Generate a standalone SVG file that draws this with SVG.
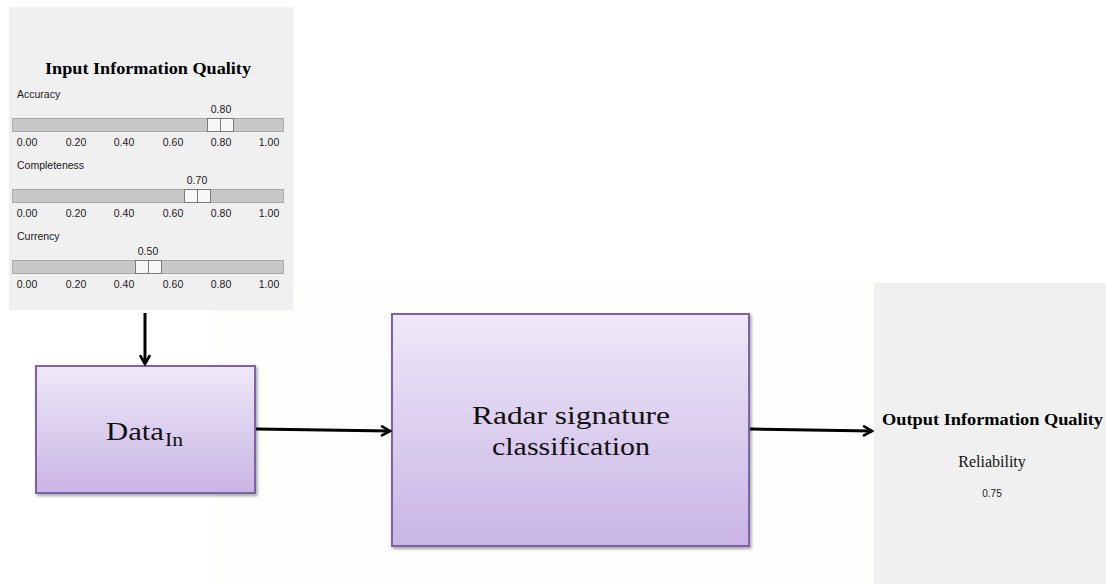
<svg xmlns="http://www.w3.org/2000/svg" width="1106" height="584" viewBox="0 0 1106 584">
<defs>
<linearGradient id="boxGrad" x1="0" y1="0" x2="0" y2="1">
<stop offset="0" stop-color="#eee8f7"/>
<stop offset="1" stop-color="#c9b5e5"/>
</linearGradient>
<filter id="shadow" x="-10%" y="-10%" width="120%" height="120%">
<feDropShadow dx="1.5" dy="2" stdDeviation="1.5" flood-color="#000" flood-opacity="0.35"/>
</filter>
<marker id="arrow" viewBox="0 0 12 12" refX="10" refY="6" markerWidth="12" markerHeight="12" markerUnits="userSpaceOnUse" orient="auto">
<path d="M2,1.5 L10,6 L2,10.5" fill="none" stroke="#000" stroke-width="2.6" stroke-linecap="round" stroke-linejoin="miter"/>
</marker>
</defs>
<style>
.panel{fill:#f0f0f0}
.title{font-family:"Liberation Serif","Times New Roman",serif;font-weight:bold;font-size:17px;fill:#000}
.lbl{font-family:"Liberation Sans",Arial,sans-serif;font-size:10.5px;fill:#1a1a1a}
.tick{font-family:"Liberation Sans",Arial,sans-serif;font-size:10.5px;fill:#1a1a1a;text-anchor:middle}
.track{fill:#c8c8c8;stroke:#a9a9a9;stroke-width:1}
.thumb{fill:#f7f7f7;stroke:#7a7a7a;stroke-width:1}
.node rect{fill:url(#boxGrad);stroke:#7d62a8;stroke-width:2;filter:url(#shadow)}
.ntext{font-family:"Liberation Serif","Times New Roman",serif;font-size:25px;fill:#111;text-anchor:middle}
.ntl{font-family:"Liberation Serif","Times New Roman",serif;fill:#111;text-anchor:start}
.conn{stroke:#000;stroke-width:3;fill:none;marker-end:url(#arrow)}
</style>
<rect x="0" y="0" width="1106" height="584" fill="#ffffff"/>
<rect x="215" y="283" width="891" height="301" fill="#fdfdfb"/>

<g id="input-panel">
<rect class="panel" x="9" y="7" width="284" height="303"/>
<text class="title" x="148" y="74" text-anchor="middle" textLength="206" lengthAdjust="spacingAndGlyphs">Input Information Quality</text>

<text class="lbl" x="17" y="98">Accuracy</text>
<text class="tick" x="221" y="113">0.80</text>
<rect class="track" x="12.5" y="118.5" width="271" height="13"/>
<rect class="thumb" x="207.5" y="118.5" width="26" height="13"/>
<line x1="220.5" y1="119" x2="220.5" y2="131" stroke="#7a7a7a"/>
<g class="ticks">
<text class="tick" x="27" y="146">0.00</text>
<text class="tick" x="76" y="146">0.20</text>
<text class="tick" x="124" y="146">0.40</text>
<text class="tick" x="173" y="146">0.60</text>
<text class="tick" x="221" y="146">0.80</text>
<text class="tick" x="269" y="146">1.00</text>
</g>

<text class="lbl" x="17" y="169">Completeness</text>
<text class="tick" x="197" y="184">0.70</text>
<rect class="track" x="12.5" y="189.5" width="271" height="13"/>
<rect class="thumb" x="184.5" y="189.5" width="26" height="13"/>
<line x1="197.5" y1="190" x2="197.5" y2="202" stroke="#7a7a7a"/>
<g class="ticks">
<text class="tick" x="27" y="217">0.00</text>
<text class="tick" x="76" y="217">0.20</text>
<text class="tick" x="124" y="217">0.40</text>
<text class="tick" x="173" y="217">0.60</text>
<text class="tick" x="221" y="217">0.80</text>
<text class="tick" x="269" y="217">1.00</text>
</g>

<text class="lbl" x="17" y="240">Currency</text>
<text class="tick" x="148" y="255">0.50</text>
<rect class="track" x="12.5" y="260.5" width="271" height="13"/>
<rect class="thumb" x="135.5" y="260.5" width="26" height="13"/>
<line x1="148.5" y1="261" x2="148.5" y2="273" stroke="#7a7a7a"/>
<g class="ticks">
<text class="tick" x="27" y="288">0.00</text>
<text class="tick" x="76" y="288">0.20</text>
<text class="tick" x="124" y="288">0.40</text>
<text class="tick" x="173" y="288">0.60</text>
<text class="tick" x="221" y="288">0.80</text>
<text class="tick" x="269" y="288">1.00</text>
</g>
</g>

<g id="data-in" class="node">
<rect x="36" y="366" width="219" height="127"/>
<text class="ntl" x="106" y="440" font-size="26" textLength="58" lengthAdjust="spacingAndGlyphs">Data</text>
<text class="ntl" x="165" y="446" font-size="18" textLength="18" lengthAdjust="spacingAndGlyphs">In</text>
</g>

<g id="radar" class="node">
<rect x="392" y="314" width="357" height="232"/>
<text class="ntext" x="571" y="424" textLength="198" lengthAdjust="spacingAndGlyphs">Radar signature</text>
<text class="ntext" x="571" y="455" textLength="158" lengthAdjust="spacingAndGlyphs">classification</text>
</g>

<g id="output-panel">
<rect class="panel" x="874" y="283" width="232" height="301"/>
<text class="title" x="992.5" y="425" text-anchor="middle" font-size="18" textLength="221" lengthAdjust="spacingAndGlyphs">Output Information Quality</text>
<text x="992" y="467" text-anchor="middle" font-family="Liberation Serif, Times New Roman, serif" font-size="16" fill="#111">Reliability</text>
<text x="992" y="497" text-anchor="middle" font-family="Liberation Sans, Arial, sans-serif" font-size="10" fill="#222">0.75</text>
</g>

<g id="connectors">
<line class="conn" x1="145" y1="313" x2="145" y2="364"/>
<line class="conn" x1="256" y1="429" x2="390" y2="431"/>
<line class="conn" x1="750" y1="429" x2="872" y2="431"/>
</g>
</svg>
